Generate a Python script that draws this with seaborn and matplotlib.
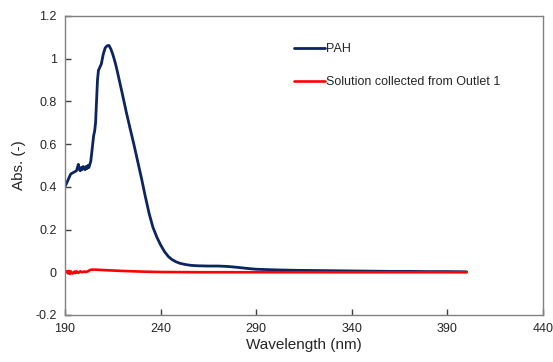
import numpy as np
import pandas as pd
import matplotlib
matplotlib.use("Agg")
import matplotlib.pyplot as plt
import seaborn as sns
from matplotlib.ticker import FuncFormatter

# PAH spectrum
pah_wl = [190, 191, 192, 193, 194, 195, 196, 196.5, 197, 197.5, 198, 198.5, 199, 199.5,
          200, 200.5, 201, 201.5, 202, 202.5, 203, 203.5, 204, 204.5, 205, 205.5, 206,
          206.5, 207, 207.5, 208, 209, 210, 211, 212, 213, 214, 215, 216, 217, 218, 220,
          222, 224, 226, 228, 230, 232, 234, 236, 238, 240, 242, 244, 246, 248, 250, 253,
          256, 260, 265, 270, 275, 280, 285, 290, 300, 310, 320, 330, 340, 350, 360, 370,
          380, 390, 400]
pah_abs = [0.40, 0.42, 0.44, 0.46, 0.465, 0.47, 0.475, 0.49, 0.505, 0.48, 0.475, 0.49, 0.48,
           0.495, 0.49, 0.48, 0.495, 0.485, 0.50, 0.49, 0.505, 0.52, 0.56, 0.60, 0.64, 0.66,
           0.70, 0.80, 0.90, 0.945, 0.955, 0.975, 1.02, 1.05, 1.06, 1.062, 1.045, 1.02,
           0.99, 0.955, 0.915, 0.835, 0.752, 0.675, 0.60, 0.52, 0.44, 0.355, 0.275, 0.21,
           0.165, 0.128, 0.097, 0.074, 0.059, 0.049, 0.042, 0.036, 0.032, 0.030, 0.029,
           0.029, 0.027, 0.023, 0.018, 0.014, 0.011, 0.009, 0.008, 0.007, 0.006, 0.005,
           0.004, 0.004, 0.003, 0.003, 0.002]

# Solution collected from Outlet 1
out_wl = [190, 191, 191.5, 192, 192.5, 193, 194, 195, 195.5, 196, 197, 198, 199, 200, 201,
          202, 203, 204, 206, 210, 215, 220, 230, 240, 260, 300, 400]
out_abs = [0.0, 0.005, -0.005, 0.006, -0.008, 0.004, -0.006, 0.003, -0.004, 0.004, -0.003,
           0.004, 0.0, 0.003, 0.002, 0.004, 0.010, 0.012, 0.012, 0.010, 0.008, 0.006, 0.003,
           0.001, 0.0, 0.0, 0.0]

sns.set_style("white")
plt.rcParams['font.family'] = ['Liberation Sans', 'DejaVu Sans']

fig = plt.figure(figsize=(5.53, 3.62), dpi=100)
ax = fig.add_axes([0.1175, 0.13, 0.8645, 0.826])

sns.lineplot(x=pah_wl, y=pah_abs, ax=ax, color="#0c2461", linewidth=2.0, label="PAH")
sns.lineplot(x=out_wl, y=out_abs, ax=ax, color="#ff0000", linewidth=1.9,
             label="Solution collected from Outlet 1")

ax.set_xlim(190, 440)
ax.set_ylim(-0.2, 1.2)
ax.set_xticks(np.arange(190, 441, 50))
ax.set_yticks(np.arange(-0.2, 1.21, 0.2))
ax.yaxis.set_major_formatter(FuncFormatter(lambda v, p: "%g" % round(v, 1)))
ax.tick_params(axis="both", which="major", direction="in", length=4, width=1.0,
               color="#404040", labelsize=9, pad=6, left=True, bottom=True)
for s in ax.spines.values():
    s.set_color("#808080")
    s.set_linewidth(1.0)

ax.set_xlabel("Wavelength (nm)", fontsize=11, labelpad=2)
ax.set_ylabel("Abs. (-)", fontsize=11, labelpad=7)

ax.legend(loc="upper left", bbox_to_anchor=(0.465, 0.93), frameon=False, fontsize=9,
          handlelength=2.5, handletextpad=0.1, labelspacing=1.7, borderpad=0)

fig.savefig("out.png", dpi=100)
